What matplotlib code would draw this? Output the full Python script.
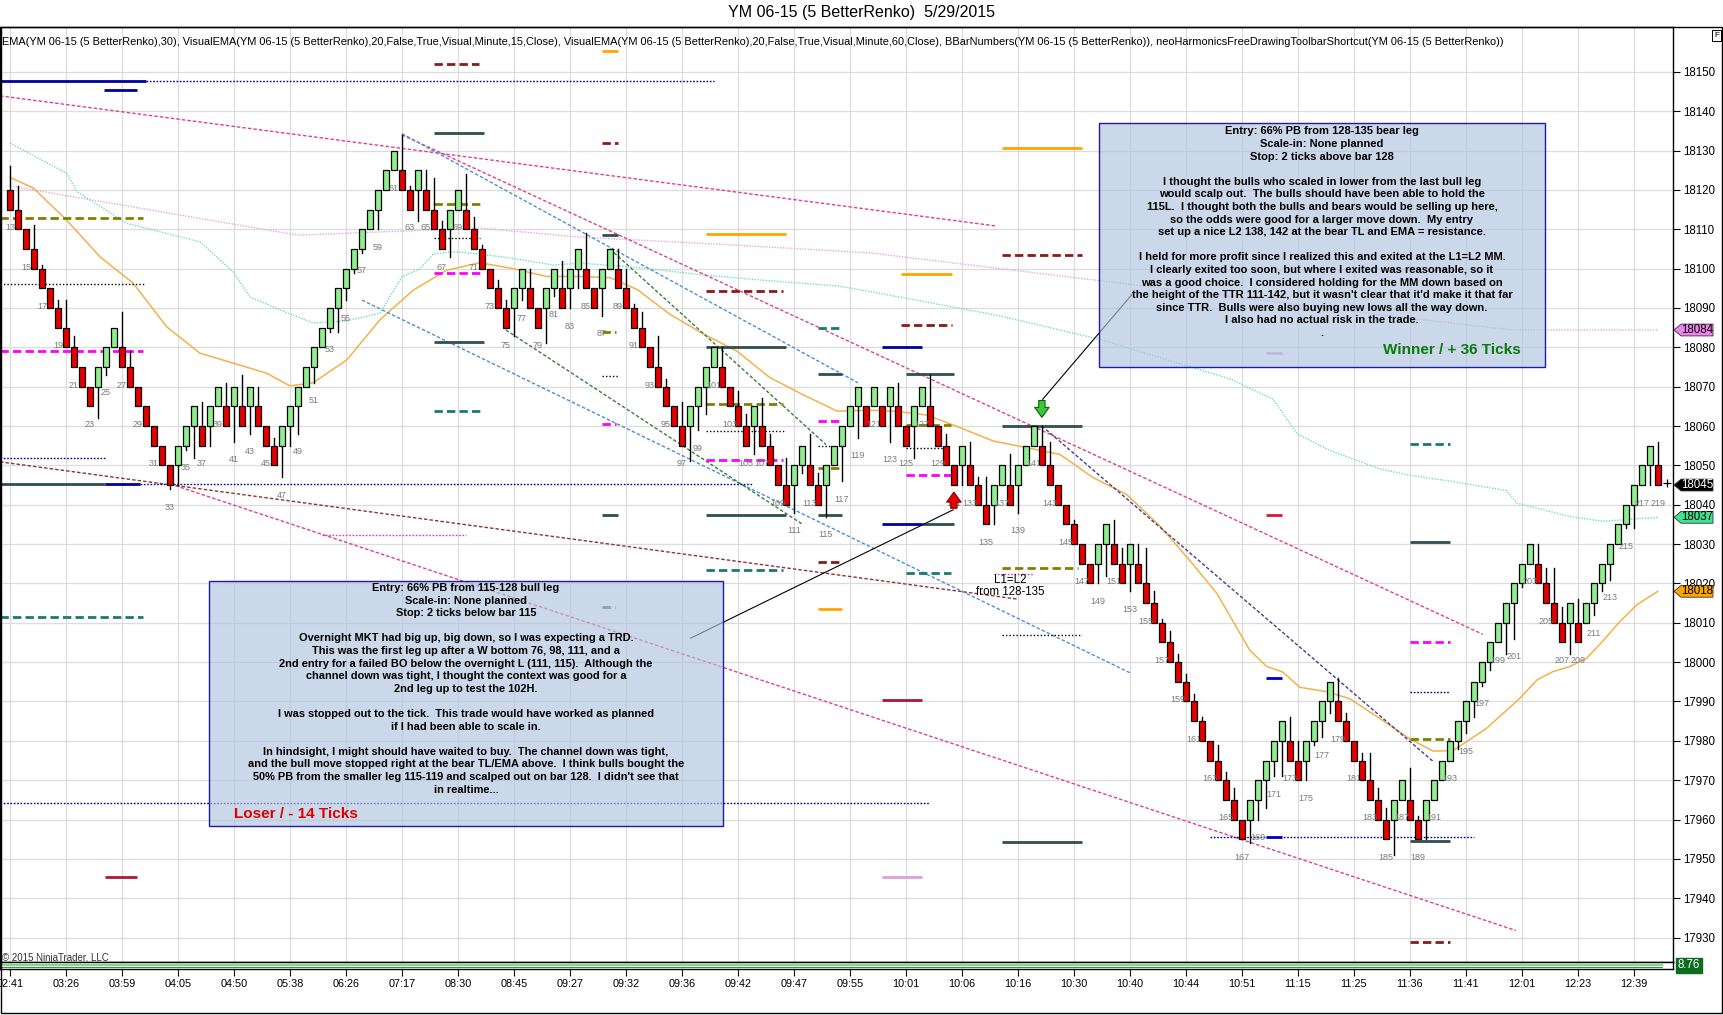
import matplotlib
matplotlib.use("Agg")
import matplotlib.pyplot as plt
from matplotlib.patches import Rectangle, Polygon

plt.rcParams["font.family"] = ["Liberation Sans", "DejaVu Sans"]

W, H = 1723, 1015

# ---------------- DATA ----------------
brick_size = 5
first_bar_number = 13

# renko brick closes, one per bar (bar number = index + 13)
closes = [
    18115, 18110, 18105, 18100, 18095, 18090, 18085, 18080, 18075, 18070,
    18065, 18075, 18080, 18085, 18075, 18070, 18065, 18060, 18055, 18050,
    18045, 18055, 18060, 18065, 18055, 18065, 18070, 18060, 18070, 18060,
    18070, 18060, 18055, 18050, 18060, 18065, 18070, 18075, 18080, 18085,
    18090, 18095, 18100, 18105, 18110, 18115, 18120, 18125, 18130, 18120,
    18115, 18125, 18115, 18110, 18105, 18115, 18120, 18110, 18105, 18100,
    18095, 18090, 18085, 18095, 18100, 18090, 18085, 18095, 18100, 18090,
    18100, 18105, 18095, 18090, 18100, 18105, 18095, 18090, 18085, 18080,
    18075, 18070, 18065, 18060, 18055, 18065, 18070, 18075, 18080, 18070,
    18065, 18060, 18055, 18065, 18055, 18050, 18045, 18040, 18050, 18055,
    18045, 18040, 18050, 18055, 18060, 18065, 18070, 18060, 18070, 18060,
    18070, 18060, 18055, 18065, 18070, 18060, 18055, 18050, 18045, 18055,
    18045, 18040, 18035, 18045, 18050, 18040, 18050, 18055, 18060, 18050,
    18045, 18040, 18035, 18030, 18025, 18020, 18030, 18035, 18025, 18020,
    18030, 18020, 18015, 18010, 18005, 18000, 17995, 17990, 17985, 17980,
    17975, 17970, 17965, 17960, 17955, 17965, 17970, 17975, 17980, 17985,
    17975, 17970, 17980, 17985, 17990, 17995, 17985, 17980, 17975, 17970,
    17965, 17960, 17955, 17965, 17970, 17960, 17955, 17965, 17970, 17975,
    17980, 17985, 17990, 17995, 18000, 18005, 18010, 18015, 18020, 18025,
    18030, 18020, 18015, 18010, 18005, 18015, 18005, 18015, 18020, 18025,
    18030, 18035, 18040, 18045, 18050, 18055, 18045,
]

wick_high = {
    0: 18126, 1: 18121, 3: 18111, 4: 18101, 6: 18092, 7: 18092, 8: 18083,
    14: 18089, 15: 18079, 24: 18066, 27: 18071, 29: 18073, 31: 18070, 33: 18057,
    49: 18134, 50: 18121, 52: 18125, 53: 18123, 54: 18112, 57: 18124, 58: 18113,
    59: 18106, 61: 18097, 62: 18092, 65: 18100, 69: 18102, 72: 18109, 76: 18105,
    77: 18100, 78: 18091, 79: 18089, 81: 18083, 82: 18072, 84: 18066, 89: 18080,
    91: 18069, 92: 18063, 94: 18067, 95: 18058, 97: 18052, 100: 18058, 101: 18048,
    111: 18071, 115: 18073, 117: 18058, 120: 18056, 121: 18047, 122: 18047,
    125: 18053, 129: 18060, 130: 18056, 133: 18036, 138: 18036, 139: 18029,
    141: 18030, 142: 18029, 143: 18018, 144: 18011, 145: 18008, 146: 18002,
    147: 17997, 148: 17992, 149: 17986, 151: 17979, 152: 17972, 153: 17968,
    160: 17986, 161: 17980, 166: 17996, 167: 17987, 169: 17977, 170: 17977,
    171: 17968, 172: 17963, 175: 17973, 176: 17961, 191: 18030, 192: 18024,
    193: 18024, 194: 18014, 196: 18016, 206: 18056,
}

wick_low = {
    11: 18062, 12: 18073, 20: 18044, 21: 18045, 22: 18054, 23: 18052, 25: 18055,
    28: 18056, 30: 18058, 34: 18047, 35: 18055, 36: 18058, 38: 18071, 40: 18084,
    41: 18084, 42: 18092, 43: 18099, 44: 18104, 46: 18110, 51: 18112, 55: 18103,
    63: 18083, 64: 18092, 67: 18081, 68: 18093, 70: 18090, 71: 18095, 74: 18088,
    85: 18051, 86: 18059, 87: 18063, 93: 18053, 98: 18038, 99: 18048, 102: 18037,
    104: 18046, 106: 18057, 110: 18056, 113: 18052, 119: 18045, 123: 18035,
    126: 18038, 136: 18020, 137: 18022, 140: 18018, 155: 17954, 156: 17960,
    157: 17963, 158: 17971, 159: 17971, 162: 17970, 163: 17979, 164: 17981,
    165: 17987, 173: 17951, 177: 17955, 181: 17978, 182: 17982, 183: 17986,
    184: 17994, 185: 17998, 187: 18002, 188: 18006, 189: 18019, 195: 18002,
    198: 18012, 199: 18018, 200: 18021, 202: 18034, 203: 18034, 205: 18045,
}

time_labels = ["02:41", "03:26", "03:59", "04:05", "04:50", "05:38", "06:26",
               "07:17", "08:30", "08:45", "09:27", "09:32", "09:36", "09:42",
               "09:47", "09:55", "10:01", "10:06", "10:16", "10:30", "10:40",
               "10:44", "10:51", "11:15", "11:25", "11:36", "11:41", "12:01",
               "12:23", "12:39"]
bars_per_label = 7
price_ticks = list(range(17930, 18151, 10))

# EMA(30) at bar positions
ema_bar = [0, 2.9, 7.1, 11.25, 15.4, 19.6, 23.75, 27.9, 32.1, 35, 37.9, 42.1,
           46.25, 50.4, 54.6, 58.75, 62.9, 67.1, 71.25, 75, 78.4, 82.5, 86.6,
           90.9, 95, 99.1, 103.4, 107.5, 110.4, 114.6, 118.75, 122.9, 127.1,
           131.25, 135.4, 139.6, 143.75, 147.5, 150.9, 155, 157.1, 159.1,
           161.25, 164.6, 167.5, 171.6, 175, 177.9, 180.4, 184.6, 188.75,
           190.9, 192.9, 195, 197.1, 199.1, 201.25, 203.4, 206]
ema_val = [18123.2, 18120.5, 18112.3, 18103, 18096.3, 18085.2, 18078.5, 18076,
           18073.4, 18070.2, 18071, 18076.8, 18087, 18094.5, 18099.6, 18101.5,
           18100, 18098, 18098, 18097.7, 18094.7, 18088.4, 18083.5, 18079,
           18072.3, 18068, 18063.8, 18064, 18063.8, 18062.8, 18059.6, 18056.2,
           18054.5, 18052.8, 18046.9, 18042.6, 18034.6, 18025.8, 18017.4, 18003,
           17998.9, 17997.5, 17993.6, 17992.5, 17990.7, 17985.2, 17980.5,
           17977.4, 17977.5, 17983.2, 17990.8, 17995.5, 17997.6, 17998.9,
           18001, 18005.3, 18010.3, 18014.6, 18018]

# VisualEMA 15 minute
ema15_bar = [0, 7.1, 8.4, 14.6, 23.75, 27.9, 30, 33.75, 37.9, 42.1, 46.25, 49,
             51.25, 52.9, 55.4, 58.75, 62.9, 67.9, 71.25, 78.4, 86.6, 95, 103.4,
             107.5, 123.75, 136.25, 152.5, 157.9, 160.9, 165, 171.25, 175, 180,
             187.1, 188.4, 195, 199.1, 206]
ema15_val = [18131.9, 18124.2, 18119.5, 18111.5, 18106.8, 18099.2, 18092.8,
             18089.5, 18086.2, 18086.7, 18088.7, 18097.9, 18100, 18103.7,
             18104.3, 18103.7, 18102.6, 18100.9, 18101.4, 18100.3, 18098.4,
             18096.9, 18095.6, 18094.2, 18088, 18082, 18072, 18066.8, 18058,
             18053.8, 18049.1, 18047.5, 18046, 18043.6, 18040.4, 18037, 18035.8,
             18036.8]

# VisualEMA 60 minute
ema60_bar = [0, 36, 46, 58.75, 71.25, 88.75, 107.5, 136, 178.75, 187.9, 206]
ema60_val = [18121, 18108.5, 18109.3, 18110.3, 18108, 18106.2, 18104, 18097,
             18086.5, 18084.4, 18084.4]

# drawn trend lines: (bar0, price0, bar1, price1, colour)
trend_lines = [
    (-1.25, 18143.9, 123.4, 18110.8, "#e0408a"),
    (49, 18134.0, 184.1, 18007.1, "#e0408a"),
    (20, 18045.3, 188.25, 17931.8, "#e0408a"),
    (-1.25, 18050.9, 126, 18016.0, "#8b3535"),
    (49, 18134.3, 106, 18071.0, "#4a8fd8"),
    (44, 18092.0, 140, 17997.3, "#4a8fd8"),
    (75, 18105.0, 102, 18055.3, "#3c7d3c"),
    (62, 18084.4, 99.1, 18035.0, "#3c7d3c"),
    (129, 18060.0, 177.9, 17974.8, "#483d8b"),
]

# short horizontal price levels: (bar0, bar1, price, kind)
levels = [
    (-1.25, 17, 18147.6, "navy"), (17, 88, 18147.6, "navy_dot"),
    (11.75, 15.9, 18145.3, "navy"), (-1.25, 16.6, 18112.9, "olive"),
    (-1.25, 16.9, 18096.2, "black_dot"), (-1.25, 16.6, 18079.1, "magenta"),
    (-1.25, 11.9, 18052.0, "navy_dot"), (-1.25, 11.9, 18045.2, "slate"),
    (11.9, 16.25, 18045.2, "navy"), (16.25, 92.9, 18045.2, "navy_dot"),
    (-1.25, 16.6, 18011.5, "teal"), (-1.25, 114.9, 17964.2, "navy_dot"),
    (11.9, 15.9, 17945.3, "maroon_solid"),
    (53, 58.6, 18152.1, "maroon"), (53, 59.25, 18134.5, "slate"),
    (53, 58.75, 18116.4, "olive"), (53, 58.75, 18107.9, "black_dot"),
    (53, 58.75, 18098.9, "magenta"), (53, 59.25, 18081.4, "slate"),
    (53, 58.75, 18063.9, "teal"), (39, 57, 18032.2, "mag_dot"),
    (74, 76, 18155.3, "orange"),
    (74, 76, 18131.9, "maroon"), (74, 76, 18108.5, "slate"),
    (74, 75.75, 18083.9, "olive"), (74, 76, 18072.7, "black_dot"),
    (74, 75.75, 18060.6, "magenta"), (74, 76, 18037.4, "slate"),
    (74, 75.6, 18014.0, "teal"),
    (87, 97, 18108.7, "orange"), (87, 96.6, 18094.3, "maroon"),
    (87, 97, 18080.2, "slate"), (87, 96.6, 18065.7, "olive"),
    (87, 96.9, 18058.7, "black_dot"), (87, 96.6, 18051.4, "magenta"),
    (87, 97, 18037.3, "slate"), (87, 96.6, 18023.3, "teal"),
    (101, 103.75, 18085.0, "teal"), (101, 104, 18073.3, "slate"),
    (101, 103.75, 18061.3, "magenta"), (101, 102.5, 18055.0, "black_dot"),
    (101, 103.75, 18049.4, "olive"), (101, 104, 18037.3, "slate"),
    (101, 103.6, 18025.5, "maroon"), (101, 104, 18013.6, "orange"),
    (109, 114, 18080.0, "navy"), (111.4, 117.75, 18098.7, "orange"),
    (111.4, 117.75, 18085.6, "maroon"), (112, 118, 18073.3, "slate"),
    (112, 117.6, 18060.3, "olive"), (112, 117.6, 18054.3, "black_dot"),
    (112, 117.6, 18047.5, "magenta"), (109, 114, 18035.2, "navy"),
    (114, 118, 18035.2, "slate"), (112, 117.6, 18022.7, "teal"),
    (109, 114, 17990.5, "maroon_solid"), (109, 114, 17945.3, "plum"),
    (124, 134, 18130.6, "orange"), (124, 134, 18103.4, "maroon"),
    (124, 134, 18060.0, "slate"), (124, 133.5, 18024.0, "olive"),
    (123, 127.9, 18022.3, "mag_dot"), (124, 134, 18007.0, "black_dot"),
    (124, 134, 17954.3, "slate"),
    (157, 159, 18078.5, "plum"), (157, 159, 18037.4, "crimson"),
    (157, 159, 17996.0, "blue"), (157, 159, 17955.5, "blue"),
    (150, 183, 17955.5, "navy_dot"),
    (175, 180, 18055.5, "teal"), (175, 180, 18030.5, "slate"),
    (175, 180, 18005.0, "magenta"), (175, 180, 17992.4, "navy_dot"),
    (175, 180, 17980.4, "olive"), (175, 180, 17954.5, "slate"),
    (175, 180, 17929.0, "maroon"),
]

# right axis price markers: (price, text, fill, text colour)
price_tags = [
    (18084.4, "18084", "#ee82ee", "black"),
    (18045.0, "18045", "black", "white"),
    (18036.8, "18037", "#3fe38f", "black"),
    (18018.0, "18018", "#ffa500", "black"),
]

indicator_text = ("EMA(YM 06-15 (5 BetterRenko),30), VisualEMA(YM 06-15 (5 BetterRenko),20,False,True,"
                  "Visual,Minute,15,Close), VisualEMA(YM 06-15 (5 BetterRenko),20,False,True,Visual,"
                  "Minute,60,Close), BBarNumbers(YM 06-15 (5 BetterRenko)), "
                  "neoHarmonicsFreeDrawingToolbarShortcut(YM 06-15 (5 BetterRenko))")

winner_lines = [
    "Entry: 66% PB from 128-135 bear leg",
    "Scale-in: None planned",
    "Stop: 2 ticks above bar 128",
    "",
    "I thought the bulls who scaled in lower from the last bull leg",
    "would scalp out.  The bulls should have been able to hold the",
    "115L.  I thought both the bulls and bears would be selling up here,",
    "so the odds were good for a larger move down.  My entry",
    "set up a nice L2 138, 142 at the bear TL and EMA = resistance.",
    "",
    "I held for more profit since I realized this and exited at the L1=L2 MM.",
    "I clearly exited too soon, but where I exited was reasonable, so it",
    "was a good choice.  I considered holding for the MM down based on",
    "the height of the TTR 111-142, but it wasn't clear that it'd make it that far",
    "since TTR.  Bulls were also buying new lows all the way down.",
    "I also had no actual risk in the trade.",
    ".",
]

loser_lines = [
    "Entry: 66% PB from 115-128 bull leg",
    "Scale-in: None planned",
    "Stop: 2 ticks below bar 115",
    "",
    "Overnight MKT had big up, big down, so I was expecting a TRD.",
    "This was the first leg up after a W bottom 76, 98, 111, and a",
    "2nd entry for a failed BO below the overnight L (111, 115).  Although the",
    "channel down was tight, I thought the context was good for a",
    "2nd leg up to test the 102H.",
    "",
    "I was stopped out to the tick.  This trade would have worked as planned",
    "if I had been able to scale in.",
    "",
    "In hindsight, I might should have waited to buy.  The channel down was tight,",
    "and the bull move stopped right at the bear TL/EMA above.  I think bulls bought the",
    "50% PB from the smaller leg 115-119 and scalped out on bar 128.  I didn't see that",
    "in realtime...",
]

# ---------------- STYLES ----------------
level_styles = {
    "slate": dict(color="#2f4f4f", ls="-", lw=2),
    "navy": dict(color="#0000a0", ls="-", lw=2),
    "navy_dot": dict(color="#00008b", ls=(0, (1.2, 1.2)), lw=1),
    "olive": dict(color="#808000", ls=(0, (3, 1.5)), lw=2),
    "black_dot": dict(color="black", ls=(0, (1, 1.5)), lw=1),
    "magenta": dict(color="#ff00ff", ls=(0, (3, 1.5)), lw=2),
    "mag_dot": dict(color="#e040a0", ls=(0, (1.2, 1.2)), lw=1),
    "teal": dict(color="#1a7a70", ls=(0, (3, 1.5)), lw=2),
    "maroon": dict(color="#8b1a1a", ls=(0, (3, 1.5)), lw=2),
    "maroon_solid": dict(color="#a8183a", ls="-", lw=2),
    "orange": dict(color="#ffa500", ls="-", lw=2),
    "plum": dict(color="#dda0dd", ls="-", lw=2),
    "crimson": dict(color="#dc143c", ls="-", lw=2),
    "blue": dict(color="#0000cd", ls="-", lw=2),
}

fig = plt.figure(figsize=(W / 100, H / 100), dpi=100)

plot_top, plot_bottom, axis_x = 27, 962, 1673
ax = fig.add_axes([0, 1 - plot_bottom / H, axis_x / W, (plot_bottom - plot_top) / H])
ax.set_xlim(-1.25, 207.9)
ax.set_ylim(17923.8, 18161.4)

label_bars = [i * bars_per_label for i in range(len(time_labels))]
ax.set_xticks(label_bars)
ax.set_yticks(price_ticks)
ax.grid(True, color="#dcdcdc", lw=0.9)
ax.set_axisbelow(True)
ax.tick_params(axis="x", length=0, labelbottom=False)
ax.yaxis.tick_right()
ax.tick_params(axis="y", direction="out", length=5, pad=2, labelsize=8.3, width=0.8)
for s in ax.spines.values():
    s.set_color("black")
    s.set_linewidth(1)

# ---------------- INDICATOR LINES ----------------
ax.plot(ema60_bar, ema60_val, color="#e6a8d8", lw=1, ls=(0, (1, 1)), zorder=2)
ax.plot(ema15_bar, ema15_val, color="#6fe0b8", lw=1, ls=(0, (1, 1)), zorder=2)
ax.plot(ema_bar, ema_val, color="#f2b24a", lw=1.1, zorder=2)

for b0, p0, b1, p1, col in trend_lines:
    ax.plot([b0, b1], [p0, p1], color=col, lw=1, ls=(0, (2.5, 1.5)), zorder=2)

for b0, b1, price, kind in levels:
    st = level_styles[kind]
    ax.plot([b0, b1], [price, price], color=st["color"], ls=st["ls"], lw=st["lw"],
            zorder=2, solid_capstyle="butt", dash_capstyle="butt")

# ---------------- RENKO BRICKS ----------------
prev = None
for i, c in enumerate(closes):
    up = prev is not None and c > prev
    prev = c
    o = c - brick_size if up else c + brick_size
    lo_body, hi_body = min(o, c), max(o, c)
    face = "#90ee90" if up else "#e80000"
    ax.add_patch(Rectangle((i - 0.37, lo_body), 0.74, hi_body - lo_body,
                           facecolor=face, edgecolor="black", lw=0.9, zorder=4))
    if i in wick_high:
        ax.plot([i, i], [hi_body, wick_high[i]], color="black", lw=1, zorder=3)
    low = lo_body
    if i in wick_low:
        ax.plot([i, i], [wick_low[i], lo_body], color="black", lw=1, zorder=3)
        low = wick_low[i]
    bar_no = i + first_bar_number
    if bar_no % 2 == 1:
        ax.text(i, low - 4.6, str(bar_no), fontsize=6.5, color="#7a7a7a",
                ha="center", va="center", zorder=5)

# last price cross
ax.plot(len(closes) + 0.1, closes[-1] + 0.5, marker="+", color="black", ms=6,
        mew=0.9, clip_on=False, zorder=6)

# entry / exit arrows and their callout lines
ax.annotate("", xy=(129, 18061.5), xytext=(129, 18067.2),
            arrowprops=dict(arrowstyle="simple,head_length=0.55,head_width=0.8,tail_width=0.35",
                            fc="#3cc83c", ec="#006400", lw=0.8, mutation_scale=13), zorder=6)
ax.annotate("", xy=(118, 18043.9), xytext=(118, 18038.4),
            arrowprops=dict(arrowstyle="simple,head_length=0.55,head_width=0.8,tail_width=0.35",
                            fc="#e80000", ec="#800000", lw=0.8, mutation_scale=13), zorder=6)
ax.plot([140.25, 129.1], [18093.4, 18066.8], color="black", lw=0.8, zorder=6)
ax.plot([85.1, 117.9], [18006.1, 18038.7], color="black", lw=0.8, zorder=6)

ax.text(125, 18020.9, "L1=L2", fontsize=8.3, ha="center", va="center", zorder=6)
ax.text(125, 18017.9, "from 128-135", fontsize=8.3, ha="center", va="center", zorder=6)

# right axis tags
tag_tr = ax.get_yaxis_transform()
for price, txt, fill, tcol in price_tags:
    d = 1.5
    pts = [(1 + 1 / axis_x, price), (1 + 8 / axis_x, price + d), (1 + 40 / axis_x, price + d),
           (1 + 40 / axis_x, price - d), (1 + 8 / axis_x, price - d)]
    ax.add_patch(Polygon(pts, closed=True, facecolor=fill, edgecolor="#333333", lw=0.6,
                         transform=tag_tr, clip_on=False, zorder=7))
    ax.text(1 + 24 / axis_x, price, txt, transform=tag_tr, fontsize=8.3, color=tcol,
            ha="center", va="center", zorder=8, clip_on=False)

# ---------------- BOTTOM STRIP + TIME AXIS ----------------
strip = fig.add_axes([0, 1 - 969 / H, axis_x / W, 7 / H])
strip.set_xlim(-1.25, 207.9)
strip.set_ylim(0, 1)
strip.plot([-1.25, len(closes) - 0.5], [0.55, 0.55], color="#7fdc7f", lw=1.6)
strip.plot([-1.25, len(closes) - 0.5], [0.3, 0.3], color="#2e8b57", lw=0.7)
strip.set_yticks([])
strip.set_xticks(label_bars)
strip.set_xticklabels(time_labels)
strip.tick_params(axis="x", direction="out", length=5, pad=2, labelsize=7.8, width=0.8)
strip.xaxis.grid(True, color="#dcdcdc", lw=0.9)
for s in strip.spines.values():
    s.set_linewidth(1)
strip.text(1 + 16 / axis_x, 0.5, "8.76", transform=strip.transAxes, fontsize=8.3,
           color="white", ha="center", va="center", clip_on=False, zorder=8,
           bbox=dict(boxstyle="square,pad=0.12", fc="#0a6e1e", ec="#0a6e1e"))

# ---------------- OVERLAY (pixel space) ----------------
ov = fig.add_axes([0, 0, 1, 1], zorder=10)
ov.set_xlim(0, W)
ov.set_ylim(H, 0)
ov.axis("off")
ov.patch.set_alpha(0)

ov.add_patch(Rectangle((0.5, plot_top), W - 1.5, 1013 - plot_top, fill=False,
                       edgecolor="black", lw=1))
ov.text(862, 12, "YM 06-15 (5 BetterRenko)  5/29/2015", fontsize=11.5,
        ha="center", va="center")
ov.text(2, 42, indicator_text, fontsize=7.9, ha="left", va="center")
ov.add_patch(Rectangle((1712, 30), 9, 11, fill=False, edgecolor="black", lw=0.7))
ov.text(1716.5, 35.5, "F", fontsize=6, ha="center", va="center")
ov.text(2, 958, "\u00a9 2015 NinjaTrader, LLC", fontsize=7, color="#333333",
        ha="left", va="center")

# Winner note
ov.add_patch(Rectangle((1099, 123), 446, 244, facecolor="#b0c4de", alpha=0.65,
                       edgecolor="none"))
ov.add_patch(Rectangle((1099, 123), 446, 244, fill=False, edgecolor="#1c1ca8", lw=1))
for n, line in enumerate(winner_lines):
    ov.text(1322, 131.3 + n * 12.6, line, fontsize=8, fontweight="bold",
            ha="center", va="center")
ov.text(1521, 350.5, "Winner / + 36 Ticks", fontsize=11, fontweight="bold",
        color="#0b7a0b", ha="right", va="center")

# Loser note
ov.add_patch(Rectangle((209, 581), 514, 245, facecolor="#b0c4de", alpha=0.65,
                       edgecolor="none"))
ov.add_patch(Rectangle((209, 581), 514, 245, fill=False, edgecolor="#1c1ca8", lw=1))
for n, line in enumerate(loser_lines):
    ov.text(466, 588 + n * 12.6, line, fontsize=7.9, fontweight="bold",
            ha="center", va="center")
ov.text(234, 814, "Loser / - 14 Ticks", fontsize=11, fontweight="bold",
        color="#e00000", ha="left", va="center")

fig.savefig("out.png", dpi=100)
